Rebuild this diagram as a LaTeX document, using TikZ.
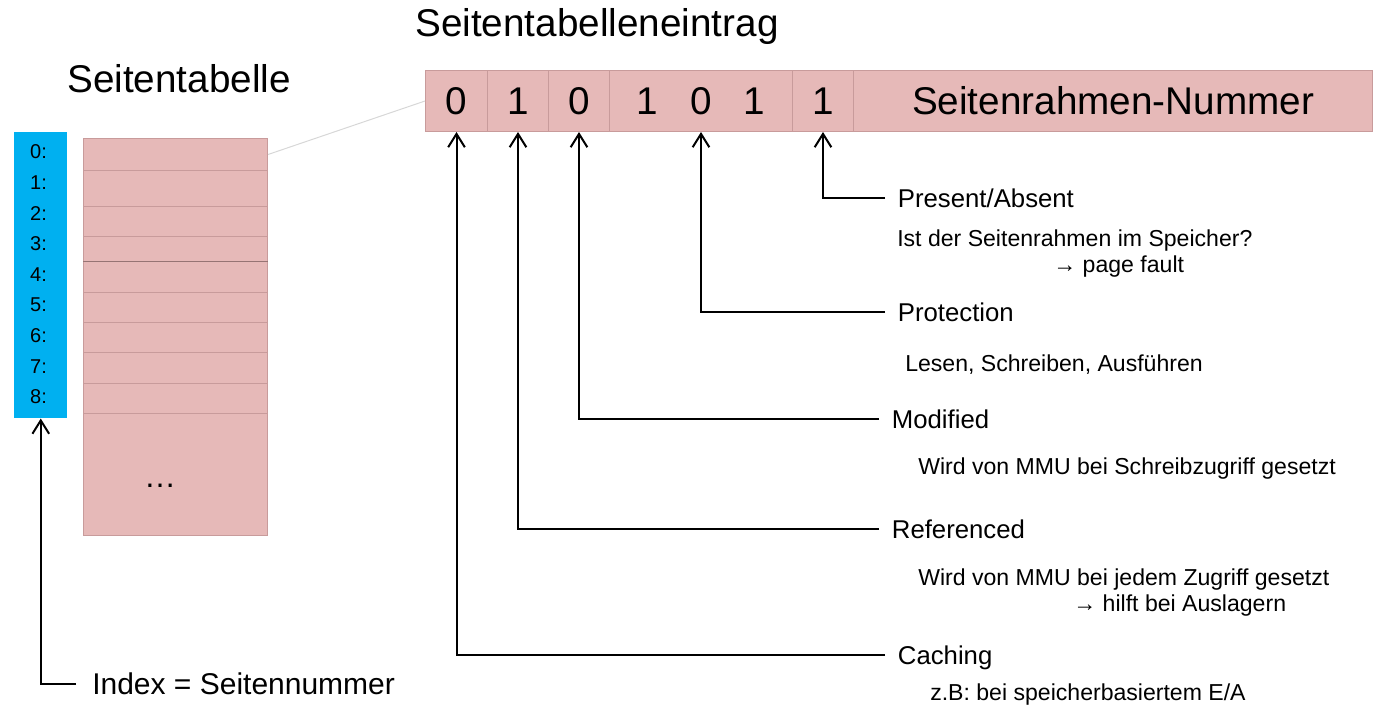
\documentclass[tikz,border=0pt]{standalone}
\usepackage{fontspec}
\setmainfont{Liberation Sans}
\usepackage{xcolor}
\usepackage{tikz}
\usetikzlibrary{arrows.meta, positioning}
\definecolor{PTPink}{RGB}{230,185,184}
\definecolor{PTEdge}{RGB}{200,155,155}
\definecolor{PTBlue}{RGB}{0,176,240}
\definecolor{PTLine}{RGB}{215,215,215}

\begin{document}
\begin{tikzpicture}[x=0.75pt,y=-0.75pt,
  cell/.style={draw=PTEdge, fill=PTPink, line width=0.75pt, inner sep=0pt, anchor=north west},
  bitarrow/.style={-{Straight Barb[length=10pt,width=12.5pt]}, line width=1.5pt},
  fieldlbl/.style={anchor=west, inner xsep=9.5pt, inner ysep=0pt, text height=13.8pt, text depth=0pt,
    font=\fontsize{19.3}{23}\selectfont},
  desc/.style={anchor=base west, inner sep=0pt, font=\fontsize{17.3}{20}\selectfont}]
  \path[use as bounding box] (0,0) rectangle (1387,711);

  % titles
  \node[anchor=base west, inner sep=0pt, font=\fontsize{29}{34}\selectfont] (ttable) at (67,92) {Seitentabelle};
  \node[anchor=base west, inner sep=0pt, font=\fontsize{29}{34}\selectfont] (tentry) at (415,36) {Seitentabelleneintrag};

  % index column
  \node[fill=PTBlue, inner sep=0pt, minimum width=39.75pt, minimum height=214.5pt, anchor=north west] (col) at (14,132) {};
  \foreach \i in {0,...,8}
    \node[font=\fontsize{15}{18}\selectfont] (idx\i) at (38.5,{152+30.6*\i}) {\i:};

  % page table rows
  \foreach \i/\top/\bot in {0/138/170, 1/170/205.5, 2/205.5/236, 3/236/260.5, 4/260.5/291.5,
                            5/291.5/321.5, 6/321.5/352, 7/352/383, 8/383/413}
    \node[cell, minimum width=138pt, minimum height={(\bot-\top)*0.75pt}] (row\i) at (83,\top) {};
  \node[cell, minimum width=138pt, minimum height=91.5pt] (rowrest) at (83,413) {};
  \draw[PTEdge!75!black, line width=0.75pt] (row3.south west) -- (row3.south east);
  \node[font=\fontsize{24}{28}\selectfont] (dots) at (160,486) {…};

  % entry fields
  \foreach \name/\x/\w/\txt in {c1/425/62/0, c2/487/61/1, c3/548/61/0,
                                c4/609/183/{1\hspace{24pt}0\hspace{24pt}1},
                                c5/792/61/1, c6/853/519/Seitenrahmen-Nummer}
    \node[cell, minimum width={\w*0.75pt}, minimum height=45.75pt,
          font=\fontsize{29}{34}\selectfont] (\name) at (\x,70) {\txt};

  \draw[PTLine, line width=0.75pt] (row0.east) -- (c1.west);

  % field labels
  \node[fieldlbl] (present) at (885,198) {Present/Absent};
  \node[fieldlbl] (protection) at (885,312) {Protection};
  \node[fieldlbl] (modified) at (879,419) {Modified};
  \node[fieldlbl] (referenced) at (879,529) {Referenced};
  \node[fieldlbl] (caching) at (885,655) {Caching};
  \node[fieldlbl, inner xsep=12pt, text height=16.1pt, font=\fontsize{22.5}{27}\selectfont] (index) at (76,684) {Index = Seitennummer};

  % descriptions
  \node[desc] (presentd) at (897,246) {Ist der Seitenrahmen im Speicher?};
  \node[desc] (presentd2) at (1053,272) {→ page fault};
  \node[desc] (protectiond) at (905,371) {Lesen, Schreiben, Ausführen};
  \node[desc] (modifiedd) at (918,474) {Wird von MMU bei Schreibzugriff gesetzt};
  \node[desc] (referencedd) at (918,585) {Wird von MMU bei jedem Zugriff gesetzt};
  \node[desc] (referencedd2) at (1073,611) {→ hilft bei Auslagern};
  \node[desc] (cachingd) at (930,700) {z.B: bei speicherbasiertem E/A};

  % connectors
  \draw[bitarrow] (present.west) -| (c5.south);
  \draw[bitarrow] (protection.west) -| (c4.south);
  \draw[bitarrow] (modified.west) -| (c3.south);
  \draw[bitarrow] (referenced.west) -| (c2.south);
  \draw[bitarrow] (caching.west) -| (c1.south);
  \draw[bitarrow] (index.west) -| (col.south);
\end{tikzpicture}
\end{document}
